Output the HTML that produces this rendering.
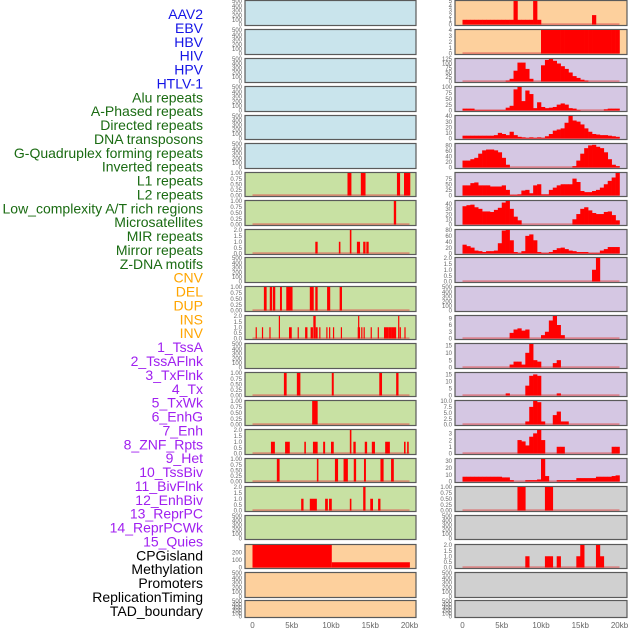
<!DOCTYPE html>
<html><head><meta charset="utf-8"><style>
html,body{margin:0;padding:0;background:#fff;}
svg{display:block;font-family:"Liberation Sans",sans-serif;}
</style></head><body>
<svg id="chart" width="630" height="630" viewBox="0 0 630 630" xmlns="http://www.w3.org/2000/svg">
<g id="labels" font-size="14" text-anchor="end"></g>
<g id="panels"></g>
<g id="xaxes" font-size="8" fill="#666" text-anchor="middle"></g>
</svg>
<script>
// ---- labels ----
const labelNames = ["AAV2","EBV","HBV","HIV","HPV","HTLV-1","Alu repeats","A-Phased repeats","Directed repeats","DNA transposons","G-Quadruplex forming repeats","Inverted repeats","L1 repeats","L2 repeats","Low_complexity A/T rich regions","Microsatellites","MIR repeats","Mirror repeats","Z-DNA motifs","CNV","DEL","DUP","INS","INV","1_TssA","2_TssAFlnk","3_TxFlnk","4_Tx","5_TxWk","6_EnhG","7_Enh","8_ZNF_Rpts","9_Het","10_TssBiv","11_BivFlnk","12_EnhBiv","13_ReprPC","14_ReprPCWk","15_Quies","CPGisland","Methylation","Promoters","ReplicationTiming","TAD_boundary"];
const labelGroups = [6,13,5,15,5];
const groupColors = ["#1414e6","#1a6b12","#ffa500","#a020f0","#000000"];

// ---- x axis ----
const xTickKb = [0,5,10,15,20];
const xTickLabels = ["0","5kb","10kb","15kb","20kb"];

// ---- tick sets ----
const ticksEmpty = [0,100,200,300,400,500];
const ticks01 = [0,0.25,0.5,0.75,1];
const ticks02 = [0,0.5,1,1.5,2];

// ---- left track segments (start kb, end kb, value) ----
const l1Starts = [12.1,13.8,18.4,19.3];
const l1Ends   = [12.6,14.4,18.8,20.1];
const l1Vals   = [1,1,1,1];
const l2Starts = [18.0]; const l2Ends = [18.3]; const l2Vals = [1];
const lowStarts = [8.0,11.0,12.4,13.3,14.1,14.5];
const lowEnds   = [8.3,11.2,12.6,13.7,14.4,14.8];
const lowVals   = [1,1,2,1,1,1];
const cnvStarts = [1.45,2.2,2.6,3.5,4.3,7.3,8.0,9.5,11.1];
const cnvEnds   = [1.8,2.5,2.9,3.75,5.1,7.8,8.3,9.9,11.4];
const cnvVals   = [1,1,1,1,1,1,1,1,1];
const delStarts = [0.4,1.2,2.15,3.35,4.65,5.75,6.7,7.4,7.75,8.05,8.5,9.4,9.75,10.25,11.25,13.4,13.45,13.85,14.15,15.05,15.95,16.75,17.3,17.7,18.55,18.75,19.35];
const delEnds   = [0.55,1.35,2.3,3.5,5.0,5.9,7.0,7.7,8.05,8.3,8.65,9.55,9.9,10.4,11.4,13.7,13.6,14.0,14.3,15.2,16.1,17.3,17.7,18.3,18.7,18.9,19.5];
const delVals   = [1,1,1,2,1,1,1,1,2,1,1,1,1,1,1,1,2,1,1,1,1,1,1,1,2,1,1];
const insStarts = [4.0,5.65,10.1,16.15,18.3];
const insEnds   = [4.35,6.1,10.35,16.5,18.6];
const insVals   = [1,1,1,1,1];
const invStarts = [7.6]; const invEnds = [8.3]; const invVals = [1];
const tssaStarts = [2.35,4.15,6.6,7.7,9.0,10.0,12.4,12.85,14.3,15.2,16.9,19.3,19.7];
const tssaEnds   = [2.85,4.75,6.8,8.3,9.25,10.35,12.6,13.15,14.6,15.6,17.5,19.5,19.9];
const tssaVals   = [1,1,1,1,1,1,2,1,1,1,1,1,1];
const flnkStarts = [3.1,8.2,10.5,11.6,12.9,14.2,16.3,17.65];
const flnkEnds   = [3.45,8.4,10.9,12.15,13.2,14.45,16.7,18.0];
const flnkVals   = [1,1,1,1,1,1,1,1];
const txStarts = [6.2,7.3,9.25,9.75,12.4,14.1,15.0,16.0];
const txEnds   = [6.5,8.2,9.6,10.1,12.6,14.4,15.35,16.3];
const txVals   = [1,1,1,1,1,2,1,1];
const cpgStarts = [0,10.1];
const cpgEnds   = [10.1,20.05];
const cpgVals   = [300,70];

// ---- right track bins (0.5 kb bins from 0 to 20 kb) ----
const aav2Bins = [1,1,1,1,1,1,1,1,1,1,1,1,1,5,1,1,1,1,5,1,0,0,0,0,0,0,0,0,0,0,0,0,0,2,0,0,0,0,0,0];
const ebvBins  = [0,0,0,0,0,0,0,0,0,0,0,0,0,0,0,0,0,0,0,0,4,4,4,4,4,4,4,4,4,4,4,4,4,4,4,4,4,4,4,4];
const hbvBins  = [0,0,0,0,0,0,0,0,0,0,0,5,15,60,105,105,70,15,0,0,90,120,125,115,100,85,70,50,30,20,10,5,0,0,0,0,0,0,0,0];
const hivBins  = [8,8,8,2,2,2,2,2,2,2,2,12,20,90,100,40,85,70,10,35,15,10,12,15,25,30,25,10,8,2,0,0,0,0,0,0,5,8,8,8];
const aluBins  = [5,5,5,5,5,5,5,5,6,10,8,6,12,6,3,2,1,2,1,2,1,4,8,14,16,18,28,40,32,30,25,18,12,8,7,6,6,5,4,3];
const aphBins  = [25,25,30,35,50,62,65,65,62,55,35,10,0,0,0,0,0,0,0,0,0,0,0,0,0,0,0,0,5,25,50,70,80,82,75,70,55,30,10,5];
const dnaBins  = [45,45,55,58,45,45,45,40,40,40,45,25,3,3,5,22,25,10,45,50,5,5,25,35,45,50,50,50,75,60,20,15,15,20,25,35,50,65,80,100];
const gquBins  = [35,37,38,33,30,25,25,24,28,32,42,45,30,15,8,0,0,0,0,0,0,0,0,0,0,0,0,0,10,20,30,33,27,22,20,20,24,25,18,8];
const invrBins = [30,25,20,10,8,5,8,8,10,35,78,80,45,5,2,8,60,65,45,5,2,2,5,12,18,20,15,10,8,5,5,5,2,2,2,10,15,22,22,22];
const mirrBins = [0,0,0,0,0,0,0,0,0,0,0,0,0,0,0,0,0,0,0,0,0,0,0,0,0,0,0,0,0,0,0,0,0,1,2,0,0,0,0,0];
const cnvrBins = [0,0,0,0,0,0,0,0,0,0,0,0,2.5,4,4.5,3.5,4,0,0,0,1.5,3,8,10,6,1.5,0,0,0,0,0,0,0,0,0,0,0,0,0,0];
const delrBins = [0,0,0,0,0,0,0,0,0,0,0,0,2,4,4,2,10,16,5,4,0,0,0,3,5,0,0,0,0,0,0,0,0,0,0,0,0,0,0,0];
const duprBins = [0,0,0,0,0,0,0,0,0,0,0,1.5,0,0,0,0,7,14,15,14,0,0,0,0,1.5,0,0,0,0,0,0,0,0,0,0,0,0,0,0,0];
const insrBins = [0,0,0,0,0,0,0,0,0,0,0,0,0,0,0,0,1.3,7.5,10,9.5,1.3,0,0,4,5.5,1.3,1.3,0,0,0,0,0,0,0,0,0,0,0,0,0];
const invrrBins= [0,0,0,0,0,0,0,0,0,0,0,0,0,0,2,1.8,1.2,2.5,3,3.5,2,0,0,0,1,1,0,0,0,0,0,0,0,0,0,0,0,0,1,1];
const tssaBins = [7,7,7,7,7,7,7,7,7,7,6,6,2,0,0,0,2,2,2,3,33,8,0,0,2,2,2,2,2,5,5,5,5,5,7,7,7,7,8,9];
const flnkBins = [0,0,0,0,0,0,0,0,0,0,0,0,0,0,1,1,0,0,0,0,0,1,1,0,0,0,0,0,0,0,0,0,0,0,0,0,0,0,0,0];
const cpgrBins = [0,0,0,0,0,0,0,0,0,0,0,0,0,0,0,0,1,0,0,0,0,1,1,0,1,0,0,0,0,1,2,0,0,0,2,1,0,0,0,0];

const BLUE="#c9e4ec", GREEN="#c8e1a3", ORANGE="#fdd09d", PURPLE="#d5c7e3", GRAY="#d0d0d0";
const rowTops = [0,29,58,86,115,143,172,200,229,257,286,315,343,372,400,429,458,486,515,544,572,600];
const rowHeights = [25,25,24,25,24,25,24,25,25,25,25,24,25,24,25,25,24,25,24,24,25,17];

const leftTracks = [
 {bg:BLUE},{bg:BLUE},{bg:BLUE},{bg:BLUE},{bg:BLUE},{bg:BLUE},
 {bg:GREEN,s:l1Starts,e:l1Ends,v:l1Vals,max:1,t:ticks01,d:2},
 {bg:GREEN,s:l2Starts,e:l2Ends,v:l2Vals,max:1,t:ticks01,d:2},
 {bg:GREEN,s:lowStarts,e:lowEnds,v:lowVals,max:2,t:ticks02,d:1},
 {bg:GREEN},
 {bg:GREEN,s:cnvStarts,e:cnvEnds,v:cnvVals,max:1,t:ticks01,d:2},
 {bg:GREEN,s:delStarts,e:delEnds,v:delVals,max:2,t:ticks02,d:1},
 {bg:GREEN},
 {bg:GREEN,s:insStarts,e:insEnds,v:insVals,max:1,t:ticks01,d:2},
 {bg:GREEN,s:invStarts,e:invEnds,v:invVals,max:1,t:ticks01,d:2},
 {bg:GREEN,s:tssaStarts,e:tssaEnds,v:tssaVals,max:2,t:ticks02,d:1},
 {bg:GREEN,s:flnkStarts,e:flnkEnds,v:flnkVals,max:1,t:ticks01,d:2},
 {bg:GREEN,s:txStarts,e:txEnds,v:txVals,max:2,t:ticks02,d:1},
 {bg:GREEN},
 {bg:ORANGE,s:cpgStarts,e:cpgEnds,v:cpgVals,max:300,t:[0,100,200],d:0},
 {bg:ORANGE},{bg:ORANGE}
];
const rightTracks = [
 {bg:ORANGE,b:aav2Bins,max:5,t:[0,1,2,3,4,5],d:0},
 {bg:ORANGE,b:ebvBins,max:4,t:[0,1,2,3,4],d:0},
 {bg:PURPLE,b:hbvBins,max:125,t:[0,25,50,75,100,125],d:0},
 {bg:PURPLE,b:hivBins,max:100,t:[0,25,50,75,100],d:0},
 {bg:PURPLE,b:aluBins,max:40,t:[0,10,20,30,40],d:0},
 {bg:PURPLE,b:aphBins,max:85,t:[0,20,40,60,80],d:0},
 {bg:PURPLE,b:dnaBins,max:100,t:[0,25,50,75],d:0},
 {bg:PURPLE,b:gquBins,max:45,t:[0,10,20,30,40],d:0},
 {bg:PURPLE,b:invrBins,max:80,t:[0,20,40,60,80],d:0},
 {bg:PURPLE,b:mirrBins,max:2,t:ticks02,d:1},
 {bg:PURPLE},
 {bg:PURPLE,b:cnvrBins,max:10,t:[0,3,6,9],d:0},
 {bg:PURPLE,b:delrBins,max:16,t:[0,5,10,15],d:0},
 {bg:PURPLE,b:duprBins,max:16,t:[0,5,10,15],d:0},
 {bg:PURPLE,b:insrBins,max:10,t:[0,2.5,5,7.5,10],d:1},
 {bg:PURPLE,b:invrrBins,max:3.5,t:[0,1,2,3],d:0},
 {bg:PURPLE,b:tssaBins,max:33,t:[0,10,20,30],d:0},
 {bg:GRAY,b:flnkBins,max:1,t:ticks01,d:2},
 {bg:GRAY},
 {bg:GRAY,b:cpgrBins,max:2,t:ticks02,d:1},
 {bg:GRAY},{bg:GRAY}
];

const NS="http://www.w3.org/2000/svg";
function mk(tag, attrs, parent){const el=document.createElementNS(NS,tag);for(const k in attrs)el.setAttribute(k,attrs[k]);parent.appendChild(el);return el;}

// labels
const labG=document.getElementById('labels');
let gi=0, cnt=0;
labelNames.forEach((n,i)=>{
  while(cnt>=labelGroups[gi]){cnt=0;gi++;}
  const t=mk('text',{x:203,y:19+i*13.88,fill:groupColors[gi]},labG);
  
  
  t.textContent=n; cnt++;
});

const KB=7.85;
const panG=document.getElementById('panels');
function drawCol(tracks, px0, pw, zeroX, col){
  tracks.forEach((tr,i)=>{
    const top=rowTops[i], h=rowHeights[i];
    const g=mk('g',{},panG);
    
    
    const bg=mk('rect',{x:px0,y:top+0.5,width:pw,height:h,fill:tr.bg,stroke:'#5a5a5a','stroke-width':1.2},g);
    
    
    const hasData = !!(tr.s||tr.b);
    const max = hasData?tr.max:500;
    const ticks = hasData?tr.t:ticksEmpty;
    const dec = hasData?tr.d:0;
    const bot = top+0.5+h-1;
    const Y = v => bot - (v/max)*(h-1.5);
    const X = kb => zeroX + kb*KB;
    ticks.forEach(tv=>{
      const tt=mk('text',{x:px0-3,y:Y(tv)+2.2,'font-size':6,fill:'#666','text-anchor':'end'},g);
      
      
      tt.textContent=tv.toFixed(dec);
    });
    if(hasData){
      const bl=mk('rect',{x:X(0),y:bot-1.2,width:20*KB,height:1.6,fill:'#e05050',opacity:0.6},g);
      
      
    }
    if(tr.s){
      tr.s.forEach((s,j)=>{
        const r=mk('rect',{x:X(s),y:Y(tr.v[j]),width:Math.max(1.2,(tr.e[j]-s)*KB),height:bot-Y(tr.v[j]),fill:'#ff0000'},g);
        
        
      });
    }
    if(tr.b){
      tr.b.forEach((v,j)=>{
        if(v<=0)return;
        const r=mk('rect',{x:X(j*0.5),y:Y(v),width:0.5*KB+0.3,height:bot-Y(v),fill:'#ff0000'},g);
        
        
      });
    }
  });
}
drawCol(leftTracks,245,171,252.5,'left');
drawCol(rightTracks,455,172,462.5,'right');

const xG=document.getElementById('xaxes');
[252.5,462.5].forEach(z=>{
  xTickKb.forEach((k,i)=>{
    const t=mk('text',{x:z+k*KB,y:628},xG);
    
    
    t.textContent=xTickLabels[i];
  });
});
</script>
</body></html>
